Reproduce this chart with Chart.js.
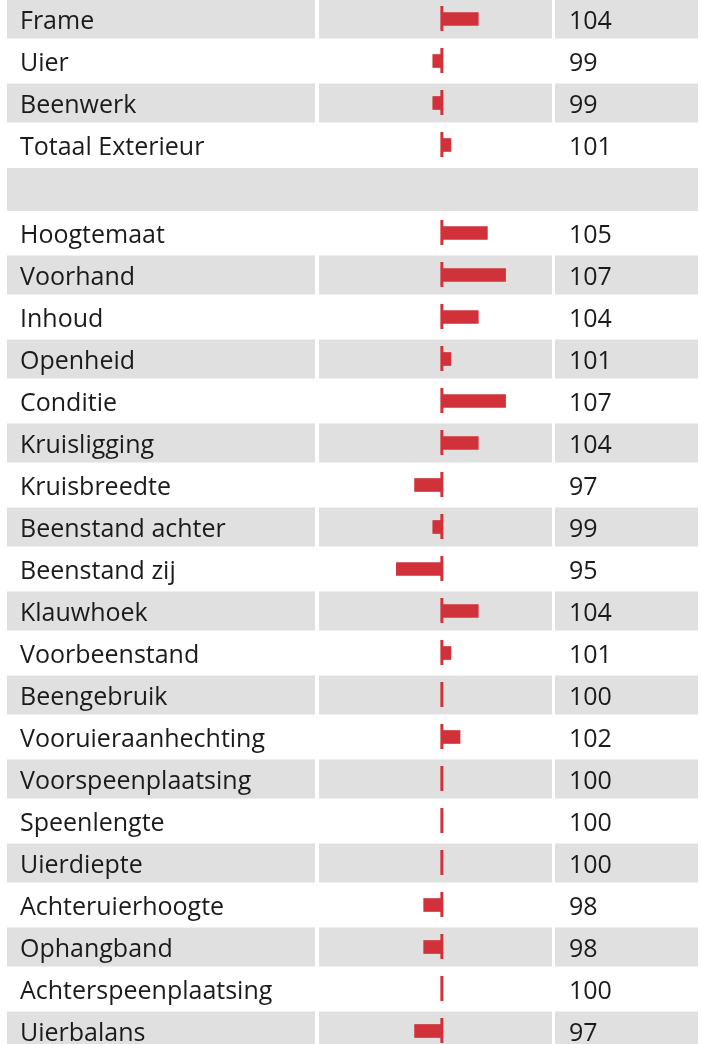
<!DOCTYPE html>
<html lang="nl">
<head>
    <meta charset="utf-8" />
    <title>Exterieur</title>
    <style>
        html, body { margin: 0; padding: 0; background: #fff; overflow: hidden; }
        body { width: 702px; height: 1044px; position: relative; }
        #topWrap { position: absolute; left: 0; top: -2px; }
        #spacer { position: absolute; left: 7px; top: 168px; width: 691px; height: 43px; background: #e0e0e0; }
        #bottomWrap { position: absolute; left: 0; top: 212px; }
        canvas { display: block; }
    </style>
</head>
<body>
    <div id="topWrap"><canvas id="topChart" width="702" height="168"></canvas></div>
    <div id="spacer"></div>
    <div id="bottomWrap"><canvas id="bottomChart" width="702" height="840"></canvas></div>

    <script src="https://cdn.jsdelivr.net/npm/chart.js"></script>
    <script>
        // Gegevens (basis = 100)
        const BASE = 100;
        const topLabels = ['Frame', 'Uier', 'Beenwerk', 'Totaal Exterieur'];
        const topValues = [104, 99, 99, 101];
        const bottomLabels = ['Hoogtemaat', 'Voorhand', 'Inhoud', 'Openheid', 'Conditie', 'Kruisligging',
            'Kruisbreedte', 'Beenstand achter', 'Beenstand zij', 'Klauwhoek', 'Voorbeenstand', 'Beengebruik',
            'Vooruieraanhechting', 'Voorspeenplaatsing', 'Speenlengte', 'Uierdiepte', 'Achteruierhoogte',
            'Ophangband', 'Achterspeenplaatsing', 'Uierbalans'];
        const bottomValues = [105, 107, 104, 101, 107, 104, 97, 99, 95, 104, 101, 100, 102, 100, 100, 100, 98, 98, 100, 97];

        const GRAY = '#e0e0e0';
        const RED = '#d1323a';
        const INK = '#1b1b1b';
        const FONT = '25px "Open Sans", "Noto Sans", sans-serif';

        // tabel: grijze rijen, labels en waarden
        const tablePlugin = {
            id: 'table',
            beforeDatasetsDraw(chart, args, opts) {
                const ctx = chart.ctx;
                const y = chart.scales.y;
                const area = chart.chartArea;
                const step = y.getPixelForValue(1) - y.getPixelForValue(0);
                const vals = chart.data.datasets[0].data;
                ctx.save();
                chart.data.labels.forEach((lab, i) => {
                    const cy = y.getPixelForValue(i);
                    if ((i + opts.stripe) % 2 === 0) {
                        const t = cy - step / 2 + 1.5, h = step - 3;
                        ctx.fillStyle = GRAY;
                        ctx.fillRect(7, t, 308, h);
                        ctx.fillRect(area.left, t, area.right - area.left, h);
                        ctx.fillRect(555, t, 143, h);
                    }
                    ctx.fillStyle = INK;
                    ctx.font = FONT;
                    ctx.textAlign = 'left';
                    ctx.textBaseline = 'alphabetic';
                    ctx.fillText(lab, 20, cy + 9.5);
                    ctx.fillText(String(vals[i][1]), 569, cy + 9.5);
                });
                ctx.restore();
            },
            afterDatasetsDraw(chart) {
                // rode streep op 100
                const ctx = chart.ctx;
                const x0 = chart.scales.x.getPixelForValue(BASE);
                ctx.save();
                ctx.fillStyle = RED;
                chart.data.labels.forEach((lab, i) => {
                    const cy = chart.scales.y.getPixelForValue(i);
                    ctx.fillRect(x0 - 1.5, cy - 13, 3, 25);
                });
                ctx.restore();
            }
        };

        function makeChart(id, labels, values, stripe) {
            return new Chart(document.getElementById(id), {
                type: 'bar',
                data: {
                    labels: labels,
                    datasets: [{
                        data: values.map(v => [BASE, v]),
                        backgroundColor: RED,
                        borderWidth: 0,
                        barThickness: 13
                    }]
                },
                options: {
                    indexAxis: 'y',
                    responsive: false,
                    animation: false,
                    devicePixelRatio: 1,
                    layout: { padding: { left: 319, right: 150, top: 0, bottom: 0 } },
                    scales: {
                        x: { display: false, min: 86.5, max: 112.1 },
                        y: { display: false }
                    },
                    plugins: {
                        legend: { display: false },
                        tooltip: { enabled: false },
                        table: { stripe: stripe }
                    }
                },
                plugins: [tablePlugin]
            });
        }

        makeChart('topChart', topLabels, topValues, 0);
        makeChart('bottomChart', bottomLabels, bottomValues, 1);
    </script>
</body>
</html>
